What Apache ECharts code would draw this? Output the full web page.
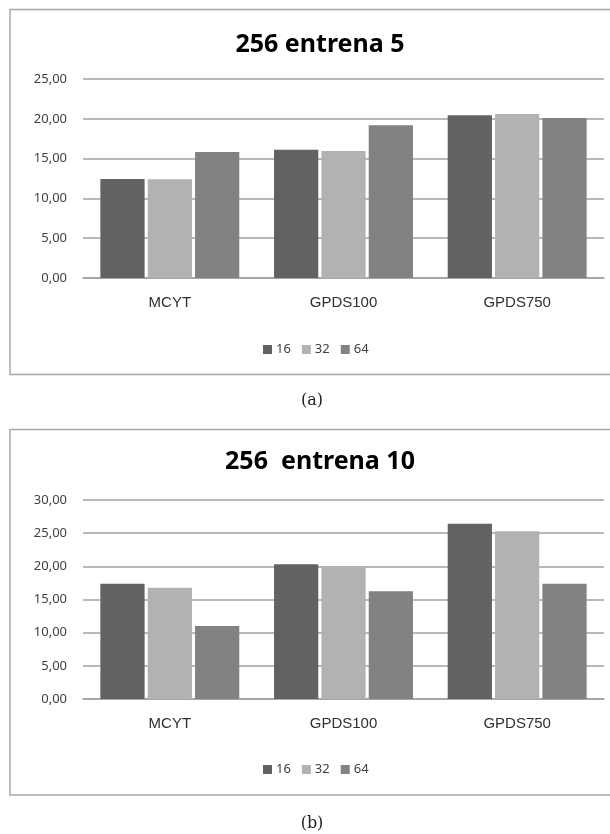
<!DOCTYPE html>
<html>
<head>
<meta charset="utf-8">
<script src="https://cdn.jsdelivr.net/npm/echarts@6/dist/echarts.min.js"></script>
<style>
  html, body { margin: 0; padding: 0; background: #ffffff; }
  #chart { width: 610px; height: 834px; }
</style>
</head>
<body>
<div id="chart"></div>
<script>
// Datasets along the x axis
var categories = ['MCYT', 'GPDS100', 'GPDS750'];
// Series names (legend)
var seriesNames = ['16', '32', '64'];

// Panel (a): 256 entrena 5
var titleA = '256 entrena 5';
var valuesA16 = [12.43, 16.10, 20.44];
var valuesA32 = [12.40, 15.95, 20.60];
var valuesA64 = [15.83, 19.18, 20.10];
var yTicksA = [0, 5, 10, 15, 20, 25];

// Panel (b): 256 entrena 10
var titleB = '256  entrena 10';
var valuesB16 = [17.38, 20.30, 26.43];
var valuesB32 = [16.78, 20.05, 25.28];
var valuesB64 = [11.00, 16.24, 17.38];
var yTicksB = [0, 5, 10, 15, 20, 25, 30];

var seriesColors = ['#626262', '#b2b2b2', '#828282'];

var chart = echarts.init(document.getElementById('chart'), null, { renderer: 'canvas' });

function fmtComma(v) { return v.toFixed(2).replace('.', ','); }

function yAxis(gridIndex, ticks) {
  return {
    type: 'value',
    gridIndex: gridIndex,
    min: ticks[0],
    max: ticks[ticks.length - 1],
    interval: ticks[1] - ticks[0],
    axisLine: { show: false },
    axisTick: { show: false },
    axisLabel: {
      formatter: fmtComma,
      margin: 16,
      color: '#404040',
      fontFamily: 'Noto Sans',
      fontSize: 13
    },
    splitLine: { lineStyle: { color: '#a0a0a0', width: 1.5 } }
  };
}

function xAxis(gridIndex) {
  return {
    type: 'category',
    gridIndex: gridIndex,
    data: categories,
    axisLine: { show: true, lineStyle: { color: '#a0a0a0', width: 1.5 } },
    axisTick: { show: false },
    axisLabel: {
      margin: 17,
      color: '#303030',
      fontFamily: 'Liberation Sans',
      fontSize: 15
    }
  };
}

function barSeries(name, data, idx) {
  return {
    name: name,
    type: 'bar',
    xAxisIndex: idx,
    yAxisIndex: idx,
    data: data,
    barCategoryGap: '20%',
    barGap: '7%',
    itemStyle: { color: seriesColors[seriesNames.indexOf(name)] }
  };
}

function legend(top) {
  return {
    data: seriesNames,
    left: 263,
    top: top,
    icon: 'rect',
    itemWidth: 9,
    itemHeight: 9,
    itemGap: 11,
    padding: 0,
    selectedMode: false,
    textStyle: { color: '#404040', fontFamily: 'Noto Sans', fontSize: 13, padding: [0, 0, 0, -1] }
  };
}

var titleStyle = { color: '#000000', fontFamily: 'Noto Sans', fontWeight: 'bold', fontSize: 25 };

chart.setOption({
  animation: false,
  backgroundColor: '#ffffff',
  title: [
    { text: titleA, left: 320, top: 32, textAlign: 'center', padding: 0, textStyle: titleStyle },
    { text: titleB, left: 320, top: 449, textAlign: 'center', padding: 0, textStyle: titleStyle }
  ],
  legend: [legend(343), legend(763)],
  grid: [
    { left: 83, right: 6, top: 79, bottom: 834 - 278 },
    { left: 83, right: 6, top: 500, bottom: 834 - 699 }
  ],
  xAxis: [xAxis(0), xAxis(1)],
  yAxis: [yAxis(0, yTicksA), yAxis(1, yTicksB)],
  series: [
    barSeries('16', valuesA16, 0),
    barSeries('32', valuesA32, 0),
    barSeries('64', valuesA64, 0),
    barSeries('16', valuesB16, 1),
    barSeries('32', valuesB32, 1),
    barSeries('64', valuesB64, 1)
  ],
  graphic: [
    { type: 'rect', shape: { x: 10, y: 9.5, width: 640, height: 365 },
      style: { fill: 'none', stroke: '#a8a8a8', lineWidth: 1.5 }, silent: true },
    { type: 'rect', shape: { x: 10, y: 429.5, width: 640, height: 365.5 },
      style: { fill: 'none', stroke: '#a8a8a8', lineWidth: 1.5 }, silent: true },
    { type: 'text', x: 312, y: 401,
      style: { text: '(a)', fill: '#202020', font: '16px "DejaVu Serif"', textAlign: 'center', textVerticalAlign: 'middle' } },
    { type: 'text', x: 312, y: 824,
      style: { text: '(b)', fill: '#202020', font: '16px "DejaVu Serif"', textAlign: 'center', textVerticalAlign: 'middle' } }
  ]
});
</script>
</body>
</html>
